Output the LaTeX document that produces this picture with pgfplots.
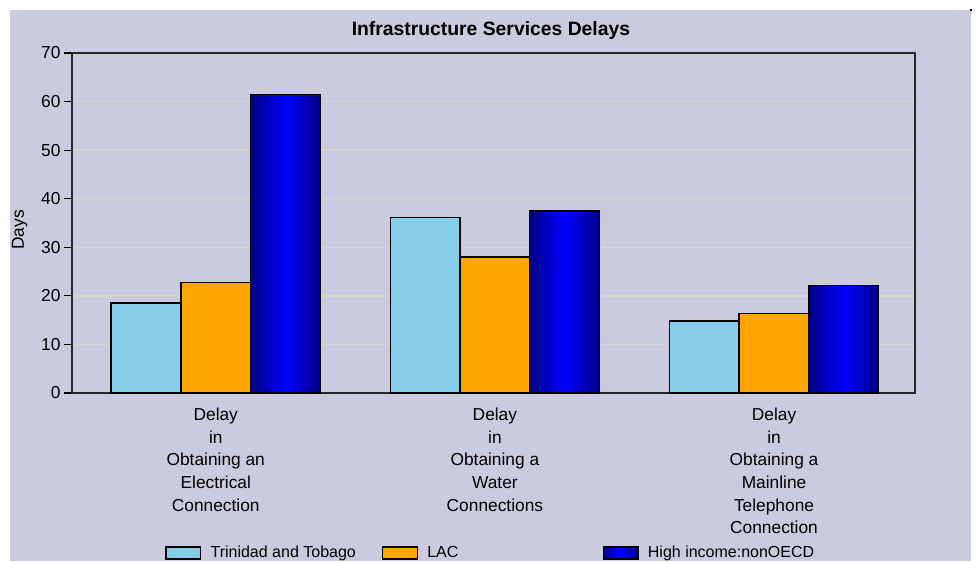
\documentclass[border=0pt]{standalone}
\usepackage{fontspec}
\setmainfont{Liberation Sans}
\usepackage{pgfplots}
\pgfplotsset{compat=1.18}

\definecolor{bgcol}{RGB}{202,203,222}
\definecolor{gridcol}{RGB}{214,214,204}
\definecolor{ttcol}{RGB}{135,206,235}
\definecolor{laccol}{RGB}{255,165,0}
\definecolor{hidark}{RGB}{0,0,135}
\definecolor{hibright}{RGB}{0,0,255}

\begin{document}
\begin{tikzpicture}
% page = 977x561 px at 0.75pt per px, origin at the plot's lower left corner
\useasboundingbox (-54pt,-126pt) rectangle (678.75pt,294.75pt);
\fill[white] (-54pt,-126pt) rectangle (678.75pt,294.75pt);
\fill[bgcol] (-46.5pt,-126pt) rectangle (674.25pt,287.25pt);
\begin{axis}[
    at={(0,0)}, anchor=south west,
    scale only axis,
    width=632.25pt, height=255pt,
    ybar,
    bar width=0.25,
    xmin=-0.515, xmax=2.505,
    ymin=0, ymax=70,
    ytick={0,10,...,70},
    xtick={0,1,2},
    xticklabels={
        {Delay\\in\\Obtaining an\\Electrical\\Connection},
        {Delay\\in\\Obtaining a\\Water\\Connections},
        {Delay\\in\\Obtaining a\\Mainline\\Telephone\\Connection}},
    xtick style={draw=none},
    ytick pos=left,
    tick align=outside,
    major tick length=6pt,
    ytick style={black, line width=0.8pt},
    ymajorgrids=true,
    grid style={gridcol, line width=1pt},
    axis line style={black!85, line width=1.1pt},
    axis background/.style={fill=bgcol},
    /pgf/number format/assume math mode=true,
    tick label style={font=\fontsize{13}{17}\selectfont},
    xticklabel style={align=center, anchor=north, inner sep=0pt, yshift=-5pt},
    yticklabel style={inner sep=2.5pt},
    title={Infrastructure Services Delays},
    title style={font=\fontsize{14.5}{17}\selectfont\bfseries,
        at={(axis description cs:0.497,1)}, anchor=base, yshift=7.5pt},
    ylabel={Days},
    ylabel style={font=\fontsize{13}{15}\selectfont,
        at={(axis description cs:-0.062,0.48)}, anchor=center},
    legend columns=3,
    legend style={at={(axis description cs:0.1103,-0.4706)}, anchor=west,
        draw=none, fill=none, inner sep=0pt,
        font=\fontsize{12}{14}\selectfont,
        /tikz/every odd column/.append style={column sep=5pt},
        /tikz/every even column/.append style={column sep=0pt}},
    legend cell align=left,
    legend image code/.code={\draw[#1] (0pt,-4.5pt) rectangle (26pt,4.5pt);},
    hibar/.style={draw=black, line width=1pt, bar shift=0.25,
        left color=hidark, right color=hidark, middle color=hibright},
]
\addplot[draw=black, line width=1pt, fill=ttcol, bar shift=-0.25]
    coordinates {(0,18.5) (1,36.2) (2,14.8)};
\addplot[draw=black, line width=1pt, fill=laccol, bar shift=0]
    coordinates {(0,22.7) (1,28.0) (2,16.4)};
% one plot per bar so that each bar gets its own shading
\addplot[hibar] coordinates {(0,61.5)};
\addplot[hibar, forget plot] coordinates {(1,37.5)};
\addplot[hibar, forget plot] coordinates {(2,22.2)};
\legend{\makebox[126.5pt][l]{Trinidad and Tobago},
        \makebox[129.5pt][l]{LAC},
        High income:nonOECD}
\end{axis}
\fill[black] (673.5pt,286.5pt) rectangle (675pt,288pt);
\end{tikzpicture}
\end{document}
